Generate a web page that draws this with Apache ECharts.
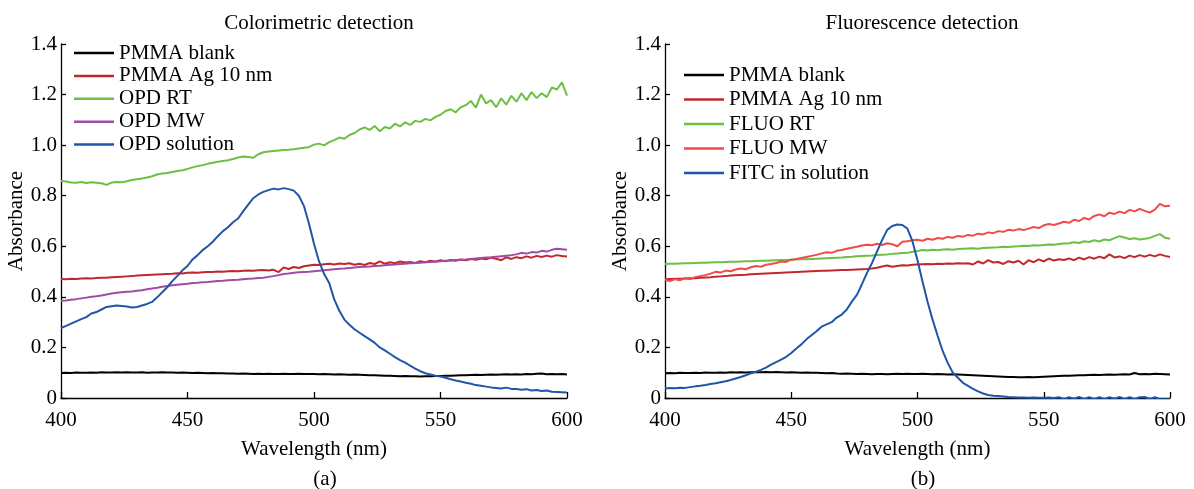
<!DOCTYPE html>
<html>
<head>
<meta charset="utf-8">
<script src="https://cdn.jsdelivr.net/npm/echarts@6/dist/echarts.min.js"></script>
<style>html,body{margin:0;padding:0;background:#fff}#c{width:1194px;height:489px}</style>
</head>
<body>
<div id="c"></div>
<script>
// Wavelength (nm), 2 nm step
const wavelength = [400,402,404,406,408,410,412,414,416,418,420,422,424,426,428,430,432,434,436,438,440,442,444,446,448,450,452,454,456,458,460,462,464,466,468,470,472,474,476,478,480,482,484,486,488,490,492,494,496,498,500,502,504,506,508,510,512,514,516,518,520,522,524,526,528,530,532,534,536,538,540,542,544,546,548,550,552,554,556,558,560,562,564,566,568,570,572,574,576,578,580,582,584,586,588,590,592,594,596,598,600];

// Panel (a) Colorimetric detection
const aPmmaBlank = [0.099,0.100,0.099,0.101,0.100,0.100,0.101,0.100,0.102,0.101,
0.101,0.102,0.101,0.102,0.101,0.101,0.102,0.100,0.101,0.101,
0.102,0.101,0.101,0.100,0.101,0.100,0.099,0.100,0.099,0.098,
0.099,0.098,0.098,0.097,0.097,0.096,0.097,0.096,0.095,0.096,
0.095,0.096,0.095,0.095,0.096,0.095,0.095,0.096,0.095,0.095,
0.095,0.094,0.095,0.094,0.093,0.094,0.093,0.092,0.093,0.092,
0.091,0.090,0.090,0.089,0.088,0.088,0.087,0.086,0.087,0.086,
0.086,0.085,0.086,0.086,0.087,0.087,0.088,0.088,0.089,0.090,
0.090,0.091,0.092,0.091,0.092,0.093,0.092,0.093,0.094,0.093,
0.094,0.093,0.095,0.094,0.096,0.097,0.094,0.095,0.094,0.095,0.093];
const aPmmaAg = [0.471,0.470,0.472,0.471,0.473,0.474,0.473,0.475,0.476,0.476,
0.478,0.479,0.480,0.481,0.482,0.484,0.485,0.486,0.487,0.488,
0.489,0.490,0.491,0.493,0.492,0.495,0.496,0.495,0.497,0.498,
0.498,0.500,0.499,0.501,0.502,0.501,0.503,0.504,0.503,0.505,
0.506,0.504,0.507,0.498,0.516,0.510,0.518,0.514,0.521,0.524,
0.527,0.526,0.529,0.531,0.528,0.532,0.530,0.533,0.527,0.531,
0.526,0.534,0.530,0.540,0.531,0.537,0.533,0.540,0.536,0.538,
0.534,0.541,0.537,0.543,0.539,0.545,0.541,0.546,0.543,0.548,
0.545,0.550,0.547,0.552,0.549,0.555,0.551,0.545,0.556,0.550,
0.557,0.553,0.560,0.555,0.562,0.558,0.563,0.559,0.565,0.562,0.560];
const aOpdRT = [0.858,0.856,0.852,0.851,0.854,0.850,0.853,0.851,0.849,0.843,
0.852,0.854,0.853,0.857,0.862,0.865,0.868,0.872,0.877,0.884,
0.888,0.890,0.894,0.898,0.901,0.906,0.912,0.917,0.921,0.926,
0.930,0.934,0.937,0.940,0.945,0.951,0.955,0.953,0.950,0.964,
0.972,0.975,0.977,0.979,0.981,0.982,0.984,0.987,0.990,0.992,
1.002,1.006,0.999,1.012,1.020,1.030,1.025,1.040,1.048,1.062,
1.070,1.060,1.076,1.055,1.072,1.066,1.085,1.074,1.090,1.080,
1.096,1.092,1.104,1.098,1.112,1.120,1.135,1.142,1.130,1.150,
1.158,1.175,1.148,1.200,1.165,1.178,1.150,1.185,1.160,1.195,
1.172,1.205,1.178,1.210,1.186,1.205,1.190,1.228,1.220,1.248,1.196];
const aOpdMW = [0.385,0.386,0.389,0.391,0.394,0.397,0.400,0.402,0.405,0.409,
0.413,0.416,0.418,0.420,0.421,0.424,0.426,0.430,0.433,0.436,
0.440,0.443,0.446,0.448,0.450,0.452,0.455,0.456,0.458,0.459,
0.461,0.463,0.464,0.466,0.467,0.468,0.470,0.472,0.473,0.475,
0.476,0.479,0.482,0.486,0.490,0.492,0.495,0.497,0.498,0.499,
0.501,0.503,0.505,0.507,0.509,0.511,0.512,0.514,0.516,0.518,
0.519,0.520,0.522,0.523,0.525,0.527,0.528,0.530,0.531,0.533,
0.534,0.535,0.537,0.538,0.540,0.541,0.543,0.544,0.546,0.547,
0.548,0.550,0.552,0.554,0.556,0.557,0.559,0.561,0.563,0.565,
0.568,0.574,0.571,0.577,0.575,0.582,0.579,0.586,0.590,0.588,0.586];
const aOpdSolution = [0.276,0.285,0.294,0.303,0.312,0.320,0.334,0.340,0.350,0.360,
0.363,0.366,0.364,0.362,0.358,0.360,0.366,0.372,0.380,0.398,
0.418,0.438,0.462,0.483,0.505,0.522,0.548,0.565,0.585,0.600,
0.618,0.640,0.660,0.675,0.695,0.710,0.738,0.765,0.790,0.805,
0.815,0.822,0.828,0.825,0.830,0.826,0.820,0.800,0.760,0.690,
0.610,0.540,0.490,0.455,0.390,0.345,0.310,0.290,0.272,0.258,
0.245,0.232,0.218,0.200,0.188,0.175,0.162,0.150,0.140,0.128,
0.116,0.106,0.098,0.093,0.088,0.085,0.080,0.074,0.069,0.065,
0.060,0.056,0.051,0.048,0.045,0.042,0.040,0.038,0.041,0.036,
0.036,0.033,0.035,0.030,0.032,0.028,0.030,0.025,0.024,0.023,0.022];

// Panel (b) Fluorescence detection
const bPmmaBlank = [0.098,0.099,0.098,0.100,0.099,0.099,0.100,0.099,0.101,0.100,
0.100,0.101,0.100,0.102,0.101,0.102,0.101,0.102,0.103,0.102,
0.103,0.102,0.103,0.102,0.101,0.102,0.101,0.100,0.101,0.100,
0.100,0.099,0.098,0.099,0.097,0.096,0.097,0.096,0.095,0.096,
0.095,0.094,0.095,0.095,0.094,0.095,0.096,0.095,0.096,0.095,
0.095,0.096,0.095,0.094,0.095,0.094,0.093,0.094,0.093,0.092,
0.091,0.090,0.089,0.088,0.087,0.086,0.085,0.084,0.083,0.083,
0.082,0.082,0.083,0.082,0.083,0.084,0.085,0.086,0.087,0.088,
0.088,0.089,0.090,0.090,0.091,0.092,0.091,0.092,0.093,0.092,
0.093,0.094,0.093,0.099,0.094,0.095,0.094,0.096,0.095,0.094,0.093];
const bPmmaAg = [0.470,0.471,0.472,0.472,0.473,0.474,0.474,0.476,0.477,0.478,
0.480,0.481,0.482,0.484,0.485,0.486,0.487,0.489,0.490,0.491,
0.492,0.493,0.494,0.495,0.496,0.497,0.498,0.499,0.500,0.501,
0.502,0.503,0.503,0.504,0.505,0.506,0.506,0.507,0.508,0.509,
0.510,0.512,0.515,0.520,0.524,0.519,0.522,0.525,0.524,0.527,
0.528,0.529,0.530,0.529,0.531,0.530,0.532,0.531,0.533,0.532,
0.533,0.528,0.540,0.532,0.545,0.536,0.538,0.530,0.541,0.536,
0.543,0.528,0.545,0.537,0.548,0.540,0.551,0.544,0.549,0.546,
0.552,0.545,0.555,0.548,0.557,0.551,0.559,0.553,0.568,0.556,
0.560,0.553,0.563,0.557,0.565,0.559,0.566,0.560,0.568,0.562,0.558];
const bFluoRT = [0.530,0.531,0.531,0.532,0.533,0.533,0.534,0.535,0.535,0.536,
0.537,0.537,0.538,0.539,0.539,0.540,0.541,0.541,0.542,0.543,
0.543,0.544,0.545,0.546,0.546,0.547,0.548,0.549,0.549,0.550,
0.551,0.552,0.553,0.554,0.555,0.556,0.558,0.559,0.561,0.562,
0.563,0.564,0.566,0.567,0.568,0.570,0.571,0.573,0.574,0.578,
0.581,0.585,0.583,0.586,0.584,0.587,0.588,0.586,0.589,0.590,
0.591,0.592,0.590,0.593,0.594,0.595,0.596,0.598,0.597,0.599,
0.600,0.602,0.601,0.604,0.603,0.605,0.607,0.606,0.609,0.611,
0.612,0.616,0.613,0.620,0.617,0.624,0.619,0.627,0.624,0.632,
0.640,0.635,0.629,0.632,0.627,0.630,0.633,0.641,0.648,0.634,0.630];
const bFluoMW = [0.468,0.462,0.470,0.466,0.474,0.470,0.478,0.482,0.486,0.492,
0.499,0.496,0.504,0.501,0.508,0.512,0.509,0.517,0.522,0.519,
0.527,0.530,0.534,0.540,0.538,0.547,0.550,0.554,0.558,0.562,
0.566,0.572,0.576,0.574,0.582,0.585,0.590,0.594,0.598,0.603,
0.606,0.604,0.610,0.605,0.612,0.608,0.600,0.618,0.620,0.624,
0.626,0.622,0.630,0.626,0.633,0.630,0.637,0.634,0.641,0.638,
0.645,0.642,0.650,0.647,0.655,0.652,0.660,0.657,0.665,0.662,
0.668,0.664,0.670,0.676,0.672,0.683,0.688,0.684,0.690,0.697,
0.693,0.705,0.700,0.712,0.706,0.720,0.726,0.719,0.733,0.728,
0.737,0.731,0.744,0.738,0.748,0.740,0.733,0.745,0.768,0.758,0.760];
const bFitcSolution = [0.038,0.040,0.039,0.041,0.040,0.043,0.046,0.048,0.051,0.055,
0.058,0.062,0.066,0.071,0.077,0.083,0.090,0.098,0.104,0.111,
0.120,0.132,0.142,0.152,0.163,0.178,0.196,0.212,0.232,0.248,
0.264,0.282,0.291,0.300,0.318,0.330,0.350,0.381,0.408,0.450,
0.495,0.534,0.580,0.625,0.665,0.680,0.686,0.684,0.670,0.620,
0.545,0.460,0.380,0.309,0.245,0.185,0.138,0.100,0.080,0.060,
0.048,0.036,0.026,0.018,0.012,0.009,0.008,0.006,0.004,0.003,
0.002,0.002,0.001,0.002,0.001,0.001,0.002,0.000,0.003,-0.004,
0.003,-0.003,0.004,-0.004,0.003,-0.004,0.003,-0.004,0.003,-0.003,
0.004,-0.004,0.003,-0.004,0.003,0.004,-0.004,0.003,-0.005,-0.005,-0.005];

const xTicks = [400, 450, 500, 550, 600];
const yTicks = [0, 0.2, 0.4, 0.6, 0.8, 1.0, 1.2, 1.4];
const namesA = ['PMMA blank','PMMA Ag 10 nm','OPD RT','OPD MW','OPD solution'];
const namesB = ['PMMA blank','PMMA Ag 10 nm','FLUO RT','FLUO MW','FITC in solution'];

const C = {black:'#000000', red:'#c1272d', green:'#6cbf43', purple:'#a24aa6', blue:'#2056a8', lred:'#f04a4a'};
const FONT = 'Liberation Serif';
const FS = 21;

function pairs(ys){ return wavelength.map((x,i)=>[x, ys[i]]); }
function line(name, ys, color, idx){
  return {name:name, type:'line', xAxisIndex:idx, yAxisIndex:idx, data:pairs(ys),
    showSymbol:false, symbol:'none', lineStyle:{color:color, width:2}, itemStyle:{color:color},
    clip:true, animation:false};
}
function xAx(idx){
  return {type:'value', gridIndex:idx, min:400, max:600, interval:50,
    name:'Wavelength (nm)', nameLocation:'middle', nameGap:41,
    nameTextStyle:{fontFamily:FONT, fontSize:FS, color:'#000'},
    axisLine:{lineStyle:{color:'#000', width:1.3}},
    axisTick:{inside:true, length:6, lineStyle:{color:'#000', width:1.3}},
    axisLabel:{fontFamily:FONT, fontSize:FS, color:'#000', margin:12},
    splitLine:{show:false}};
}
function yAx(idx){
  return {type:'value', gridIndex:idx, min:0, max:1.4, interval:0.2,
    name:'Absorbance', nameLocation:'middle', nameGap:33,
    nameTextStyle:{fontFamily:FONT, fontSize:FS, color:'#000'},
    axisLine:{show:true, lineStyle:{color:'#000', width:1.3}},
    axisTick:{show:true, inside:true, length:5, lineStyle:{color:'#000', width:1.3}},
    axisLabel:{fontFamily:FONT, fontSize:FS, color:'#000', margin:4,
      formatter:v=> v===0 ? '0' : v.toFixed(1)},
    splitLine:{show:false}};
}
const legendText = {fontFamily:FONT, fontSize:FS, color:'#000', lineHeight:21};
const titleText = {fontFamily:FONT, fontSize:FS, fontWeight:'normal', color:'#000'};

const option = {
  animation:false,
  backgroundColor:'#fff',
  title:[
    {text:'Colorimetric detection', left:314, top:8, textAlign:'center', textStyle:titleText},
    {text:'Fluorescence detection', left:917, top:8, textAlign:'center', textStyle:titleText},
    {text:'(a)', left:320, top:464, textAlign:'center', textStyle:titleText},
    {text:'(b)', left:918, top:464, textAlign:'center', textStyle:titleText}
  ],
  legend:[
    {data:namesA, orient:'vertical', left:74, top:42.5, padding:0, itemWidth:40, itemHeight:2.5, icon:'rect', itemGap:1.9, textStyle:legendText, selectedMode:false},
    {data:namesB, orient:'vertical', left:684, top:64.5, padding:0, itemWidth:40, itemHeight:2.5, icon:'rect', itemGap:3.5, textStyle:legendText, selectedMode:false}
  ],
  grid:[
    {left:61, right:627, top:44, bottom:91},
    {left:665, right:24, top:44, bottom:91}
  ],
  xAxis:[xAx(0), xAx(1)],
  yAxis:[yAx(0), yAx(1)],
  series:[
    line(namesA[0], aPmmaBlank, C.black, 0),
    line(namesA[1], aPmmaAg, C.red, 0),
    line(namesA[2], aOpdRT, C.green, 0),
    line(namesA[3], aOpdMW, C.purple, 0),
    line(namesA[4], aOpdSolution, C.blue, 0),
    line(namesB[0], bPmmaBlank, C.black, 1),
    line(namesB[1], bPmmaAg, C.red, 1),
    line(namesB[2], bFluoRT, C.green, 1),
    line(namesB[3], bFluoMW, C.lred, 1),
    line(namesB[4], bFitcSolution, C.blue, 1)
  ]
};
const chart = echarts.init(document.getElementById('c'), null, {renderer:'canvas'});
chart.setOption(option);
</script>
</body>
</html>
